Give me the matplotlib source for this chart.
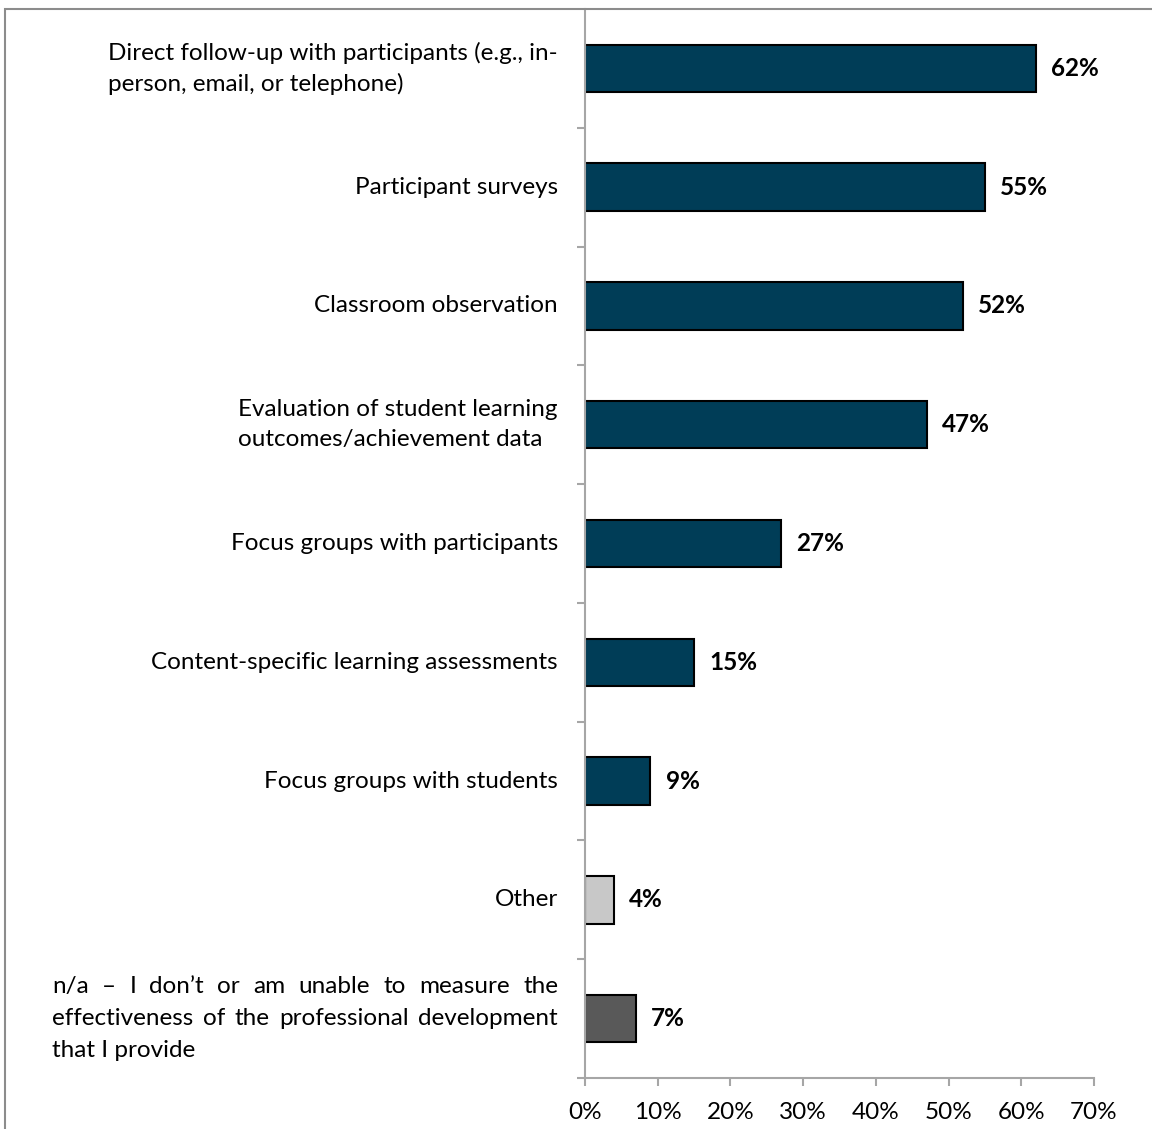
import matplotlib
matplotlib.use("Agg")
import matplotlib.pyplot as plt
from matplotlib.patches import Rectangle
from matplotlib.ticker import PercentFormatter
from matplotlib.transforms import IdentityTransform

# survey answers, top to bottom
categories = [
    "Direct follow-up with participants (e.g., in-\nperson, email, or telephone)",
    "Participant surveys",
    "Classroom observation",
    "Evaluation of student learning\noutcomes/achievement data",
    "Focus groups with participants",
    "Content-specific learning assessments",
    "Focus groups with students",
    "Other",
    None,  # n/a label is set justified below
]
na_lines = [
    "n/a \u2013 I don\u2019t or am unable to measure the",
    "effectiveness of the professional development",
    "that I provide",
]
values = [62, 55, 52, 47, 27, 15, 9, 4, 7]
colors = ["#003D57"] * 7 + ["#C8C8C8", "#595959"]

plt.rcParams["font.family"] = ["Lato", "DejaVu Sans"]
FS = 17.5

W, H = 1152, 1129
fig = plt.figure(figsize=(W / 100, H / 100), dpi=100)
ax = fig.add_axes([585 / W, 1 - 1078 / H, (1094 - 585) / W, (1078 - 9) / H])

n = len(values)
ypos = list(range(n))
ax.barh(ypos, values, height=0.4, color=colors, edgecolor="black", linewidth=1.5)
ax.set_ylim(n - 0.5, -0.5)
ax.set_xlim(0, 70)

axis_gray = "#A6A6A6"
for side in ["top", "right"]:
    ax.spines[side].set_visible(False)
for side in ["left", "bottom"]:
    ax.spines[side].set_color(axis_gray)
    ax.spines[side].set_linewidth(1.5)

ax.set_xticks(range(0, 71, 10))
ax.xaxis.set_major_formatter(PercentFormatter(decimals=0))
ax.set_yticks([i + 0.5 for i in range(n)])
ax.set_yticklabels([])
ax.tick_params(axis="both", direction="out", length=6, width=1.5, color=axis_gray,
               labelsize=FS, pad=11)

# category labels, right edge ~27 px left of the axis
lab_x = -27 / (1094 - 585)
for i, lab in enumerate(categories):
    if lab is None:
        continue
    ax.text(lab_x, i, lab, transform=ax.get_yaxis_transform(), ha="right",
            va="center", multialignment="left", fontsize=FS, linespacing=1.5)

# value labels
for i, v in enumerate(values):
    ax.annotate(f"{v}%", (v, i), xytext=(11, 0), textcoords="offset points",
                va="center", ha="left", fontsize=FS, fontweight="bold")

# justified n/a label
fig.canvas.draw()
renderer = fig.canvas.get_renderer()
_, yc = ax.transData.transform((0, n - 1))
left, right = 52, 558
pitch = 32
for k, line in enumerate(na_lines):
    yline = yc + pitch * (1 - k)
    words = line.split(" ")
    if k == len(na_lines) - 1:
        fig.text(left, yline, line, transform=IdentityTransform(), ha="left",
                 va="center", fontsize=FS)
        continue
    arts = [fig.text(0, yline, w, transform=IdentityTransform(), ha="left",
                     va="center", fontsize=FS) for w in words]
    widths = [a.get_window_extent(renderer).width for a in arts]
    gap = (right - left - sum(widths)) / (len(words) - 1)
    x = left
    for a, w in zip(arts, widths):
        a.set_x(x)
        x += w + gap

# outer frame
fig.patches.append(Rectangle((5 / W, -0.1), 2, 1 - 9 / H + 0.1, transform=fig.transFigure,
                             fill=False, edgecolor="#8C8C8C", linewidth=1.5))

fig.savefig("out.png", dpi=100)
